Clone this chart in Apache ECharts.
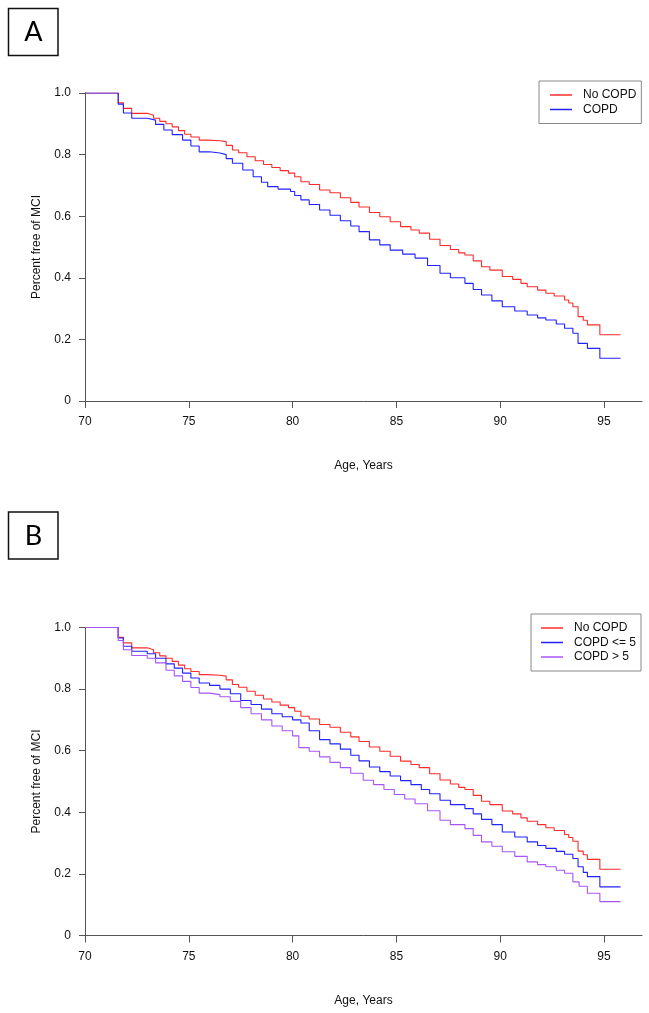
<!DOCTYPE html>
<html>
<head>
<meta charset="utf-8">
<script src="https://cdn.jsdelivr.net/npm/echarts@6/dist/echarts.min.js"></script>
<style>html,body{margin:0;padding:0;background:#fff;}#c{width:649px;height:1013px;}</style>
</head>
<body>
<div id="c"></div>
<script>
// ---- Data ----
const xTicks = [70, 75, 80, 85, 90, 95];
const yTicks = [0, 0.2, 0.4, 0.6, 0.8, 1.0];

// No COPD (same group in both panels)
const noCopdAge = [70, 71.6, 71.85, 72.25, 73.0, 73.3, 73.6, 73.9, 74.2, 74.5, 74.8, 75.1, 75.5, 75.9, 76.5, 76.8, 77.1, 77.4, 77.8, 78.2, 78.6, 79.0, 79.4, 79.8, 80.1, 80.4, 80.8, 81.3, 81.8, 82.3, 82.8, 83.2, 83.7, 84.2, 84.7, 85.2, 85.7, 86.1, 86.6, 87.1, 87.6, 88.0, 88.3, 88.7, 89.1, 89.5, 90.1, 90.6, 91.0, 91.3, 91.8, 92.2, 92.6, 93.1, 93.3, 93.5, 93.75, 94.0, 94.2, 94.8, 95.8];
const noCopdSurv = [1.0, 0.968, 0.950, 0.934, 0.928, 0.918, 0.908, 0.900, 0.89, 0.878, 0.866, 0.857, 0.847, 0.845, 0.842, 0.83, 0.815, 0.806, 0.793, 0.78, 0.768, 0.758, 0.748, 0.74, 0.728, 0.712, 0.703, 0.685, 0.676, 0.66, 0.645, 0.63, 0.612, 0.598, 0.582, 0.566, 0.555, 0.545, 0.525, 0.505, 0.492, 0.481, 0.474, 0.455, 0.436, 0.425, 0.404, 0.395, 0.382, 0.371, 0.36, 0.35, 0.341, 0.328, 0.318, 0.306, 0.274, 0.262, 0.247, 0.215, 0.215];

// COPD (panel A)
const copdAge = [70, 71.6, 71.85, 72.25, 73.0, 73.4, 73.8, 74.2, 74.7, 75.1, 75.5, 76.0, 76.5, 76.8, 77.1, 77.6, 78.1, 78.5, 78.8, 79.3, 79.9, 80.1, 80.4, 80.8, 81.3, 81.8, 82.3, 82.8, 83.2, 83.7, 84.2, 84.7, 85.3, 85.9, 86.5, 87.1, 87.6, 88.3, 88.7, 89.1, 89.6, 90.1, 90.7, 91.3, 91.8, 92.2, 92.7, 93.1, 93.5, 93.75, 94.2, 94.8, 95.8];
const copdSurv = [1.0, 0.964, 0.935, 0.918, 0.912, 0.898, 0.88, 0.865, 0.847, 0.828, 0.809, 0.805, 0.8, 0.787, 0.772, 0.75, 0.728, 0.71, 0.696, 0.688, 0.68, 0.667, 0.653, 0.638, 0.62, 0.603, 0.585, 0.568, 0.55, 0.523, 0.507, 0.49, 0.477, 0.464, 0.44, 0.415, 0.4, 0.382, 0.362, 0.344, 0.325, 0.306, 0.292, 0.279, 0.27, 0.263, 0.25, 0.236, 0.22, 0.187, 0.171, 0.139, 0.139];

// COPD <= 5 (panel B)
const copdLowAge = [70, 71.6, 71.85, 72.25, 73.0, 73.4, 73.9, 74.3, 74.7, 75.1, 75.5, 76.0, 76.5, 77.0, 77.5, 78.0, 78.5, 79.0, 79.5, 80.0, 80.4, 80.8, 81.3, 81.8, 82.3, 82.8, 83.2, 83.7, 84.2, 84.7, 85.2, 85.7, 86.2, 86.6, 87.1, 87.6, 88.3, 88.7, 89.1, 89.6, 90.1, 90.7, 91.3, 91.8, 92.2, 92.7, 93.1, 93.5, 93.75, 94.0, 94.2, 94.8, 95.8];
const copdLowSurv = [1.0, 0.966, 0.939, 0.923, 0.915, 0.9, 0.882, 0.868, 0.852, 0.836, 0.82, 0.812, 0.8, 0.785, 0.763, 0.75, 0.735, 0.72, 0.71, 0.7, 0.69, 0.665, 0.636, 0.622, 0.605, 0.585, 0.567, 0.547, 0.532, 0.518, 0.503, 0.49, 0.474, 0.46, 0.439, 0.425, 0.412, 0.395, 0.377, 0.36, 0.336, 0.32, 0.304, 0.292, 0.283, 0.273, 0.264, 0.25, 0.223, 0.205, 0.191, 0.158, 0.158];

// COPD > 5 (panel B)
const copdHighAge = [70, 71.6, 71.85, 72.25, 73.0, 73.4, 73.9, 74.3, 74.7, 75.1, 75.5, 76.0, 76.5, 77.0, 77.5, 78.0, 78.5, 79.0, 79.5, 80.0, 80.3, 80.8, 81.3, 81.8, 82.3, 82.8, 83.4, 83.9, 84.4, 84.9, 85.4, 85.9, 86.5, 87.1, 87.6, 88.3, 88.7, 89.1, 89.6, 90.1, 90.7, 91.3, 91.8, 92.2, 92.7, 93.1, 93.5, 93.8, 94.2, 94.8, 95.8];
const copdHighSurv = [1.0, 0.958, 0.928, 0.909, 0.900, 0.885, 0.861, 0.843, 0.825, 0.805, 0.787, 0.782, 0.775, 0.76, 0.74, 0.72, 0.70, 0.68, 0.665, 0.648, 0.61, 0.598, 0.58, 0.562, 0.545, 0.527, 0.504, 0.49, 0.474, 0.458, 0.443, 0.428, 0.405, 0.374, 0.36, 0.347, 0.325, 0.304, 0.29, 0.272, 0.257, 0.239, 0.23, 0.223, 0.212, 0.202, 0.174, 0.16, 0.137, 0.11, 0.11];

const panelLabels = ['A', 'B'];
const xTitle = 'Age, Years';
const yTitle = 'Percent free of MCI';

// ---- Chart ----
const FONT = '"Liberation Sans", Arial, Helvetica, sans-serif';
const RED = '#ff2b2b', BLUE = '#2222ff', PURPLE = '#a855f7';
const pairs = (a, s) => a.map((v, i) => [v, s[i]]);

const grids = [
  { left: 85, top: 93, width: 557, height: 308 },
  { left: 85, top: 627.5, width: 557, height: 308 }
];
const axisCol = '#555';
function xAxis(i) {
  return {
    gridIndex: i, type: 'value', min: 70, max: 96.83, interval: 5,
    name: xTitle, nameLocation: 'middle', nameGap: 59,
    nameTextStyle: { fontFamily: FONT, fontSize: 12, color: '#111' },
    axisLine: { show: true, onZero: false, lineStyle: { color: axisCol, width: 1 } },
    axisTick: { show: true, length: 7, customValues: xTicks, lineStyle: { color: axisCol } },
    axisLabel: { customValues: xTicks, margin: 15, fontFamily: FONT, fontSize: 12, color: '#111' },
    splitLine: { show: false }
  };
}
function yAxis(i) {
  return {
    gridIndex: i, type: 'value', min: 0, max: 1, interval: 0.2,
    name: yTitle, nameLocation: 'middle', nameGap: 42, nameRotate: 90,
    nameTextStyle: { fontFamily: FONT, fontSize: 12, color: '#111' },
    axisLine: { show: true, onZero: false, lineStyle: { color: axisCol, width: 1 } },
    axisTick: { show: true, length: 6, customValues: yTicks, lineStyle: { color: axisCol } },
    axisLabel: { customValues: yTicks, margin: 14, fontFamily: FONT, fontSize: 12, color: '#111',
      formatter: v => (v === 0 ? '0' : v.toFixed(1)) },
    splitLine: { show: false }
  };
}
function line(name, color, xi, data) {
  return {
    name, type: 'line', step: 'end', xAxisIndex: xi, yAxisIndex: xi,
    data, showSymbol: false, symbol: 'none', silent: true,
    lineStyle: { color, width: 1.1 }, itemStyle: { color }
  };
}
function legend(names, left, top, padLeft) {
  return {
    data: names, orient: 'vertical', left, top,
    icon: 'rect', itemWidth: 22, itemHeight: 1.5, itemGap: 1.5,
    padding: [7.5, 5, 7.5, padLeft],
    borderColor: '#888', borderWidth: 1, backgroundColor: '#fff',
    selectedMode: false,
    textStyle: { fontFamily: FONT, fontSize: 12, color: '#111', lineHeight: 13, padding: [0, 0, 0, 6] }
  };
}
function box(label, y) {
  return [
    { type: 'rect', shape: { x: 8.5, y: y, width: 49.5, height: 47 },
      style: { fill: '#fff', stroke: '#111', lineWidth: 1.5 } },
    { type: 'text', x: 33.5, y: y + 24, style: { text: label, fontFamily: 'Lato, "Open Sans", sans-serif',
      fontSize: 27, fill: '#000', align: 'center', verticalAlign: 'middle' } }
  ];
}

const chart = echarts.init(document.getElementById('c'), null, { renderer: 'canvas' });
chart.setOption({
  animation: false,
  backgroundColor: '#fff',
  grid: grids,
  xAxis: [xAxis(0), xAxis(1)],
  yAxis: [yAxis(0), yAxis(1)],
  legend: [
    legend(['No COPD', 'COPD'], 539, 81, 11),
    legend(['No COPD', 'COPD <= 5', 'COPD > 5'], 531, 614, 10)
  ],
  series: [
    line('No COPD', RED, 0, pairs(noCopdAge, noCopdSurv)),
    line('COPD', BLUE, 0, pairs(copdAge, copdSurv)),
    line('No COPD', RED, 1, pairs(noCopdAge, noCopdSurv)),
    line('COPD <= 5', BLUE, 1, pairs(copdLowAge, copdLowSurv)),
    line('COPD > 5', PURPLE, 1, pairs(copdHighAge, copdHighSurv))
  ],
  graphic: [...box(panelLabels[0], 8.5), ...box(panelLabels[1], 512)]
});
</script>
</body>
</html>
